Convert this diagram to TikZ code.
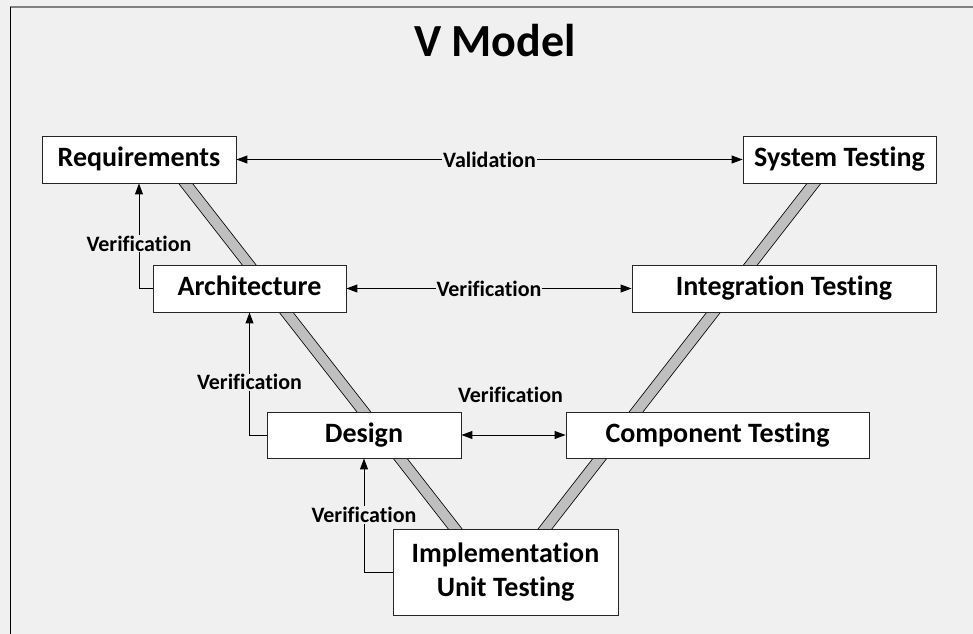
\documentclass[tikz,border=0pt]{standalone}
\usepackage{fontspec}
\setmainfont{Carlito}[Ligatures={NoCommon,NoRequired,NoContextual}]
\usetikzlibrary{arrows.meta,calc}
\definecolor{bgcol}{HTML}{F0F0F0}
\definecolor{barcol}{HTML}{BFBFBF}
\definecolor{framecol}{HTML}{808080}
\pgfdeclarelayer{bg}
\pgfdeclarelayer{mid}
\pgfsetlayers{bg,mid,main}
\tikzset{
  box/.style={draw=black!85, fill=white, line width=0.9bp, inner sep=0pt, align=center,
    font=\fontsize{28bp}{34bp}\selectfont\bfseries},
  onebox/.style={box, text height=20bp, text depth=6bp},
  lbl/.style={font=\fontsize{22bp}{26bp}\selectfont\bfseries, inner sep=1bp, fill=bgcol},
  conn/.style={line width=1bp, draw=black},
  tip/.style={-{Triangle[length=11bp,width=8bp]}},
  both/.style={{Triangle[length=11bp,width=8bp]}-{Triangle[length=11bp,width=8bp]}},
  bar/.style={draw=black, line width=0.8bp, double=barcol, double distance=10bp,
    shorten <=-12bp, shorten >=-12bp}
}
\begin{document}
\begin{tikzpicture}[x=1bp,y=-1bp]
\useasboundingbox (0,0) rectangle (973,634);
% boxes
\node[onebox, minimum width=194bp, minimum height=47bp] (req) at (139,159.5) {Requirements};
\node[onebox, minimum width=193bp, minimum height=47bp] (sys) at (839.5,159.5) {System Testing};
\node[onebox, minimum width=193bp, minimum height=47bp] (arch) at (249.5,288.5) {Architecture};
\node[onebox, minimum width=304bp, minimum height=47bp] (integ) at (784,288.5) {Integration Testing};
\node[onebox, minimum width=194bp, minimum height=46bp] (design) at (364,435) {Design};
\node[onebox, minimum width=303bp, minimum height=46bp] (comp) at (717.5,435) {Component Testing};
\node[box, minimum width=225bp, minimum height=86bp] (impl) at (505.5,572) {Implementation\\Unit Testing};
% title
\node[font=\fontsize{46bp}{52bp}\selectfont\bfseries, inner sep=0pt] (title) at (495,41) {V Model};
% background and frame
\begin{pgfonlayer}{bg}
  \fill[bgcol] (0,0) rectangle (973,634);
  \draw[framecol, line width=2bp] (10,7) -- (973,7);
  \draw[black, line width=1bp] (10,7) -- (10,634);
\end{pgfonlayer}
% V bars
\begin{pgfonlayer}{mid}
  \draw[bar] ($(req.south west)!0.739!(req.south east)$) -- ($(impl.north west)!0.276!(impl.north east)$);
  \draw[bar] ($(sys.south west)!0.368!(sys.south east)$) -- ($(impl.north west)!0.676!(impl.north east)$);
\end{pgfonlayer}
% horizontal connectors
\draw[conn, both] (req.east) -- (sys.west) node[lbl, midway] {Validation};
\draw[conn, both] (arch.east) -- (integ.west) node[lbl, midway] {Verification};
\draw[conn, both] (design.east) -- (comp.west) node[lbl, midway, yshift=40bp, xshift=-3bp, fill=none] {Verification};
% vertical verification feedback
\draw[conn, tip] (arch.west) -| (req.south) node[lbl, pos=0.714] {Verification};
\draw[conn, tip] (design.west) -| (arch.south) node[lbl, pos=0.715] {Verification};
\draw[conn, tip] (impl.west) -| (design.south) node[lbl, pos=0.75] {Verification};
\end{tikzpicture}
\end{document}
